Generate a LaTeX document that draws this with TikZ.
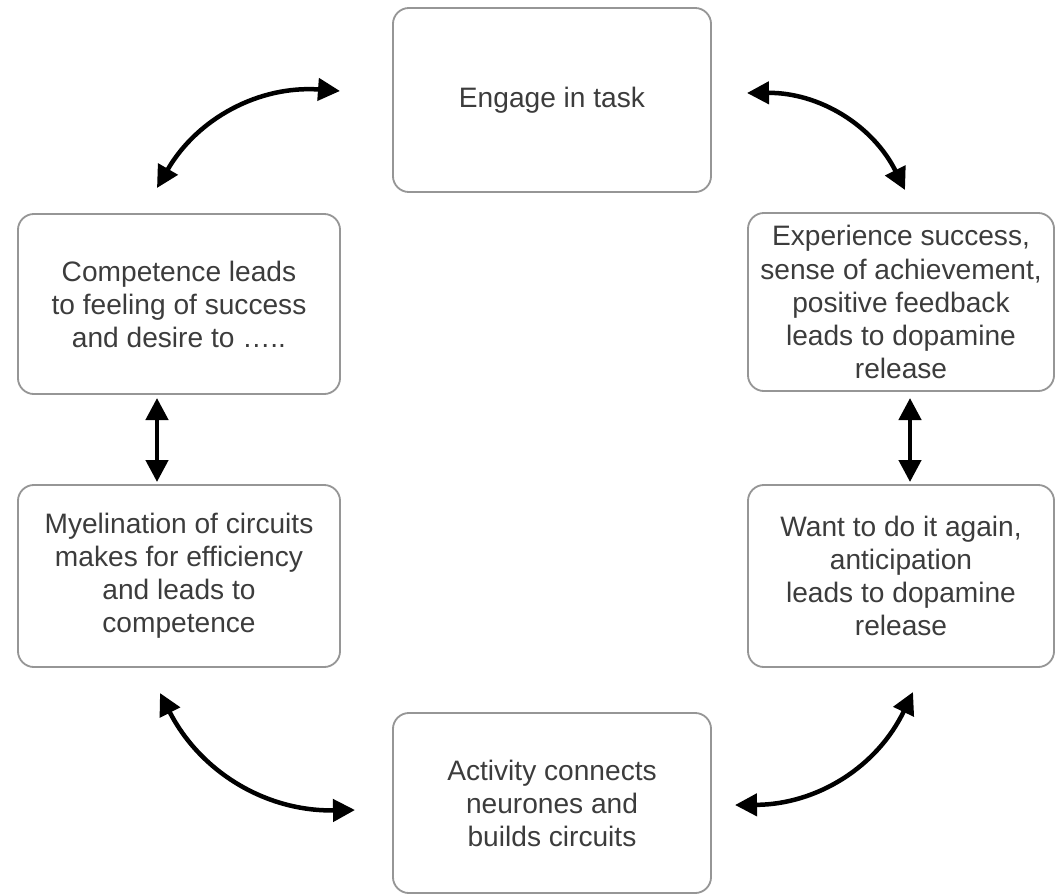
\documentclass[tikz,border=0pt]{standalone}
\usepackage{fontspec}
\setmainfont{Liberation Sans}
\usetikzlibrary{arrows.meta}
\definecolor{boxgray}{RGB}{150,150,150}
\definecolor{textgray}{RGB}{60,60,60}

\begin{document}
\begin{tikzpicture}[x=0.025cm, y=-0.025cm,
    stage/.style={draw=boxgray, line width=1.3pt, rounded corners=0.4cm,
        align=center, text=textgray, inner sep=0pt,
        font=\fontsize{20}{23.5}\selectfont},
    loop/.style={{Triangle[length=0.55cm,width=0.55cm]}-{Triangle[length=0.55cm,width=0.55cm]},
        line width=3.2pt}]

    \useasboundingbox (0,0) rectangle (1056,895);

    % Stages of the cycle
    \node[stage, minimum width=7.95cm, minimum height=4.6cm] (task) at (552,100) {Engage in task};
    \node[stage, minimum width=7.65cm, minimum height=4.45cm] (success) at (901,302)
        {Experience success,\\sense of achievement,\\positive feedback\\leads to dopamine\\release};
    \node[stage, minimum width=7.65cm, minimum height=4.55cm] (again) at (901,576)
        {Want to do it again,\\anticipation\\leads to dopamine\\release};
    \node[stage, minimum width=7.95cm, minimum height=4.5cm] (activity) at (552,803)
        {Activity connects\\neurones and\\builds circuits};
    \node[stage, minimum width=8.05cm, minimum height=4.55cm] (myelin) at (179,576)
        {Myelination of circuits\\makes for efficiency\\and leads to\\competence};
    \node[stage, minimum width=8.05cm, minimum height=4.5cm] (competence) at (179,304)
        {Competence leads\\to feeling of success\\and desire to \dots..};

    % Arrow ends
    \coordinate (tl1) at (157,188);
    \coordinate (tl2) at (340,91);
    \coordinate (tr1) at (747,93);
    \coordinate (tr2) at (905,190);
    \coordinate (rv1) at (910,398);
    \coordinate (rv2) at (910,482);
    \coordinate (br1) at (735,805);
    \coordinate (br2) at (913,692);
    \coordinate (bl1) at (160,693);
    \coordinate (bl2) at (355,810);
    \coordinate (lv1) at (157,398);
    \coordinate (lv2) at (157,482);

    % Two-way arrows
    \draw[loop] (tl1) to[bend left=32] (tl2);
    \draw[loop] (tr1) to[bend left=32] (tr2);
    \draw[loop] (rv1) -- (rv2);
    \draw[loop] (br1) to[bend right=32] (br2);
    \draw[loop] (bl1) to[bend right=32] (bl2);
    \draw[loop] (lv1) -- (lv2);

\end{tikzpicture}
\end{document}
